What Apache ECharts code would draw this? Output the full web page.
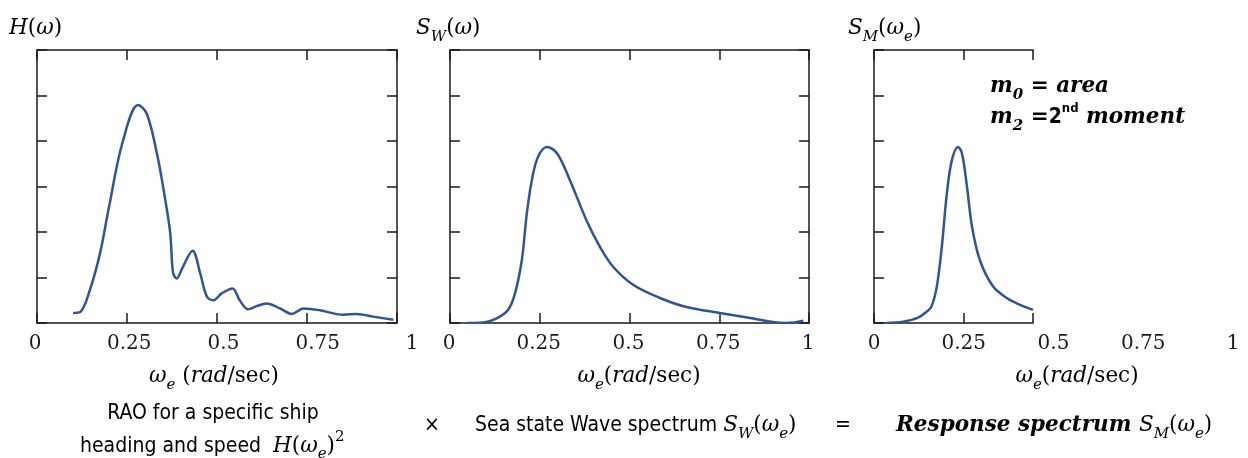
<!DOCTYPE html>
<html>
<head>
<meta charset="utf-8">
<script src="https://cdn.jsdelivr.net/npm/echarts@6/dist/echarts.min.js"></script>
<style>
  html, body { margin: 0; padding: 0; background: #fff; }
  #chart { width: 1248px; height: 458px; }
</style>
</head>
<body>
<div id="chart"></div>
<script>
// RAO curve H(w)^2
const raoX = [0.10, 0.12, 0.147, 0.175, 0.20, 0.237, 0.281, 0.305, 0.333, 0.355, 0.37, 0.378, 0.388, 0.405, 0.432, 0.453, 0.472, 0.49, 0.513, 0.543, 0.563, 0.587, 0.61, 0.638, 0.675, 0.708, 0.74, 0.786, 0.85, 0.888, 0.934, 0.99];
const raoY = [0.22, 0.24, 0.73, 1.53, 2.55, 3.95, 4.79, 4.6, 3.73, 2.77, 1.98, 1.1, 0.98, 1.23, 1.59, 1.1, 0.58, 0.5, 0.65, 0.76, 0.5, 0.3, 0.37, 0.43, 0.32, 0.2, 0.32, 0.28, 0.18, 0.2, 0.14, 0.07];

// sea state wave spectrum S_W
const waveX = [0.047, 0.093, 0.13, 0.162, 0.181, 0.20, 0.214, 0.228, 0.245, 0.27, 0.298, 0.334, 0.38, 0.418, 0.455, 0.51, 0.585, 0.659, 0.752, 0.845, 0.90, 0.938, 0.984];
const waveY = [0, 0.01, 0.1, 0.29, 0.65, 1.38, 2.41, 3.14, 3.65, 3.87, 3.73, 3.14, 2.26, 1.67, 1.23, 0.84, 0.55, 0.35, 0.22, 0.1, 0.02, 0, 0.05];

// response spectrum S_M (cut off at the right edge of the third box)
const respX = [0.036, 0.081, 0.123, 0.147, 0.16, 0.175, 0.189, 0.203, 0.217, 0.234, 0.245, 0.259, 0.273, 0.295, 0.332, 0.37, 0.407, 0.443];
const respY = [0, 0.03, 0.12, 0.25, 0.36, 0.8, 1.68, 2.85, 3.58, 3.87, 3.73, 3.0, 2.12, 1.38, 0.8, 0.55, 0.4, 0.29];

const tickLabels = ['0', '0.25', '0.5', '0.75', '1'];

const blue = '#2E5597';
const ink = '#1a1a1a';
const serif = '"DejaVu Serif", "Liberation Serif", serif';
const narrow = '"Liberation Sans Narrow", "DejaVu Sans Condensed", "Open Sans", sans-serif';

function pairs(xs, ys) {
  return xs.map((x, i) => [x, ys[i]]);
}

function fmtTick(v) {
  const i = Math.round(v * 4);
  return tickLabels[i] !== undefined ? tickLabels[i] : '';
}

const axLine = { show: true, onZero: false, lineStyle: { color: ink, width: 1.5 } };
const axTick = { show: true, inside: true, length: 10, lineStyle: { color: ink, width: 1.5 } };

function boxAxes(gi, xmax, withRight) {
  const xs = [
    { gridIndex: gi, type: 'value', min: 0, max: xmax, interval: 0.25, position: 'bottom',
      axisLine: axLine, axisTick: axTick, axisLabel: { show: false }, splitLine: { show: false } },
    { gridIndex: gi, type: 'value', min: 0, max: xmax, interval: 0.25, position: 'top',
      axisLine: axLine, axisTick: axTick, axisLabel: { show: false }, splitLine: { show: false } }
  ];
  const ys = [
    { gridIndex: gi, type: 'value', min: 0, max: 6, interval: 1, position: 'left',
      axisLine: axLine, axisTick: axTick, axisLabel: { show: false }, splitLine: { show: false } }
  ];
  if (withRight) {
    ys.push({ gridIndex: gi, type: 'value', min: 0, max: 6, interval: 1, position: 'right',
      axisLine: axLine, axisTick: axTick, axisLabel: { show: false }, splitLine: { show: false } });
  }
  return { xs, ys };
}

function labelAxes(gi) {
  return {
    xs: [{ gridIndex: gi, type: 'value', min: 0, max: 1, interval: 0.25,
      axisLine: { show: false }, axisTick: { show: false }, splitLine: { show: false },
      axisLabel: { show: true, margin: 11, fontFamily: serif, fontSize: 20, color: ink,
        showMinLabel: true, showMaxLabel: true, formatter: fmtTick } }],
    ys: [{ gridIndex: gi, type: 'value', min: 0, max: 6, show: false }]
  };
}

const grids = [
  { left: 37, top: 50, width: 360, height: 273 },
  { left: 450, top: 50, width: 359, height: 273 },
  { left: 874, top: 50, width: 159, height: 273 },
  // grids that only carry the tick labels
  { left: 35, top: 50, width: 377, height: 273 },
  { left: 449, top: 50, width: 359, height: 273 },
  { left: 874, top: 50, width: 359, height: 273 }
];

const parts = [
  boxAxes(0, 1, true),
  boxAxes(1, 1, true),
  boxAxes(2, 0.443, false),
  labelAxes(3),
  labelAxes(4),
  labelAxes(5)
];

const xAxis = [];
const yAxis = [];
const xIdx = [];
const yIdx = [];
parts.forEach(p => {
  xIdx.push(xAxis.length);
  yIdx.push(yAxis.length);
  xAxis.push(...p.xs);
  yAxis.push(...p.ys);
});

function curve(name, k, data) {
  return {
    name, type: 'line', xAxisIndex: xIdx[k], yAxisIndex: yIdx[k], data,
    smooth: 0.35, showSymbol: false, silent: true,
    lineStyle: { color: blue, width: 2.5 }, itemStyle: { color: blue }
  };
}

// rich styles for the math text
const mathRich = {
  i: { fontFamily: serif, fontStyle: 'italic', fontSize: 21.5, color: ink, padding: [0, 0, 5, 0], verticalAlign: 'bottom' },
  r: { fontFamily: serif, fontSize: 21.5, color: ink, padding: [0, 0, 5, 0], verticalAlign: 'bottom' },
  s: { fontFamily: serif, fontStyle: 'italic', fontSize: 15, color: ink, verticalAlign: 'bottom' },
  sup: { fontFamily: serif, fontSize: 15, color: ink, padding: [0, 0, 17, 0], verticalAlign: 'bottom' },
  c: { fontFamily: narrow, fontSize: 21, color: ink, padding: [0, 0, 5, 0], verticalAlign: 'bottom' },
  bi: { fontFamily: serif, fontStyle: 'italic', fontWeight: 'bold', fontSize: 21.5, color: ink, padding: [0, 0, 5, 0], verticalAlign: 'bottom' },
  bs: { fontFamily: serif, fontStyle: 'italic', fontWeight: 'bold', fontSize: 15, color: ink, verticalAlign: 'bottom' },
  bsup: { fontFamily: narrow, fontWeight: 'bold', fontSize: 13, color: ink, padding: [0, 0, 18, 0], verticalAlign: 'bottom' },
  b2: { fontFamily: narrow, fontWeight: 'bold', fontSize: 21, color: ink, padding: [0, 0, 5, 0], verticalAlign: 'bottom' }
};

function txt(x, y, text, align) {
  return {
    type: 'text', x, y, silent: true,
    style: { text, rich: mathRich, align: align || 'left', verticalAlign: 'middle' }
  };
}

const graphic = [
  txt(9, 31, '{i|H}{r|(}{i|ω}{r|)}'),
  txt(416, 31, '{i|S}{s|W}{r|(}{i|ω}{r|)}'),
  txt(848, 31, '{i|S}{s|M}{r|(}{i|ω}{s|e}{r|)}'),
  txt(214, 379, '{i|ω}{s|e}{r| (}{i|rad}{r|/sec)}', 'center'),
  txt(639, 379, '{i|ω}{s|e}{r|(}{i|rad}{r|/sec)}', 'center'),
  txt(1077, 379, '{i|ω}{s|e}{r|(}{i|rad}{r|/sec)}', 'center'),
  txt(990, 89, '{bi|m}{bs|0}{bi| = area}'),
  txt(990, 118, '{bi|m}{bs|2}{bi| =}{b2|2}{bsup|nd}{bi| moment}'),
  txt(213, 416, '{c|RAO for a specific ship}', 'center'),
  txt(80, 446, '{c|heading and speed  }{i|H}{r|(}{i|ω}{s|e}{r|)}{sup|2}'),
  txt(432, 428, '{c|×}', 'center'),
  txt(475, 428, '{c|Sea state Wave spectrum }{i|S}{s|W}{r|(}{i|ω}{s|e}{r|)}'),
  txt(843, 428, '{c|=}', 'center'),
  txt(896, 428, '{bi|Response spectrum }{i|S}{s|M}{r|(}{i|ω}{s|e}{r|)}')
];

const option = {
  animation: false,
  backgroundColor: '#ffffff',
  grid: grids,
  xAxis,
  yAxis,
  graphic,
  series: [
    curve('RAO', 0, pairs(raoX, raoY)),
    curve('Wave spectrum', 1, pairs(waveX, waveY)),
    curve('Response spectrum', 2, pairs(respX, respY))
  ]
};

const chart = echarts.init(document.getElementById('chart'), null, { renderer: 'canvas' });
chart.setOption(option);
</script>
</body>
</html>
